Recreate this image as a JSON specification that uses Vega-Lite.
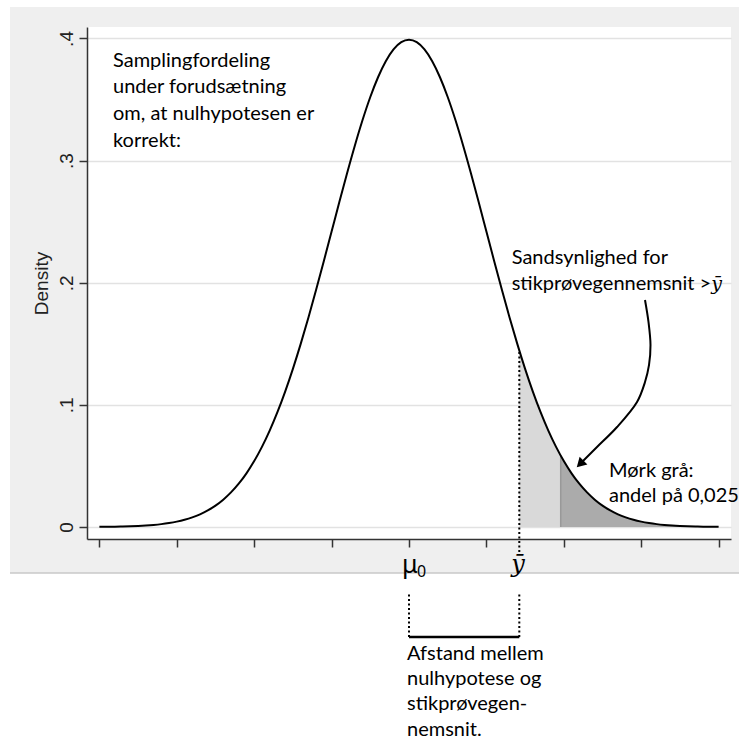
{
  "$schema": "https://vega.github.io/schema/vega-lite/v6.json",
  "width": 644,
  "height": 512,
  "autosize": {"type": "none"},
  "padding": {"left": 87, "top": 27, "right": 8, "bottom": 201},
  "background": "#efefef",
  "config": {"view": {"fill": "white", "stroke": null}, "font": "Liberation Sans"},
  "datasets": {
    "curve": [
      {"x": -4.0, "y": 0.00013}, {"x": -3.9, "y": 0.00020}, {"x": -3.8, "y": 0.00029}, {"x": -3.7, "y": 0.00042},
      {"x": -3.6, "y": 0.00061}, {"x": -3.5, "y": 0.00087}, {"x": -3.4, "y": 0.00123}, {"x": -3.3, "y": 0.00172},
      {"x": -3.2, "y": 0.00238}, {"x": -3.1, "y": 0.00327}, {"x": -3.0, "y": 0.00443}, {"x": -2.9, "y": 0.00595},
      {"x": -2.8, "y": 0.00792}, {"x": -2.7, "y": 0.01042}, {"x": -2.6, "y": 0.01358}, {"x": -2.5, "y": 0.01753},
      {"x": -2.4, "y": 0.02239}, {"x": -2.3, "y": 0.02833}, {"x": -2.2, "y": 0.03547}, {"x": -2.1, "y": 0.04398},
      {"x": -2.0, "y": 0.05399}, {"x": -1.9, "y": 0.06562}, {"x": -1.8, "y": 0.07895}, {"x": -1.7, "y": 0.09405},
      {"x": -1.6, "y": 0.11092}, {"x": -1.5, "y": 0.12952}, {"x": -1.4, "y": 0.14973}, {"x": -1.3, "y": 0.17137},
      {"x": -1.2, "y": 0.19419}, {"x": -1.1, "y": 0.21785}, {"x": -1.0, "y": 0.24197}, {"x": -0.9, "y": 0.26609},
      {"x": -0.8, "y": 0.28969}, {"x": -0.7, "y": 0.31225}, {"x": -0.6, "y": 0.33322}, {"x": -0.5, "y": 0.35207},
      {"x": -0.4, "y": 0.36827}, {"x": -0.3, "y": 0.38139}, {"x": -0.2, "y": 0.39104}, {"x": -0.1, "y": 0.39695},
      {"x": 0.0, "y": 0.39894},
      {"x": 0.1, "y": 0.39695}, {"x": 0.2, "y": 0.39104}, {"x": 0.3, "y": 0.38139}, {"x": 0.4, "y": 0.36827},
      {"x": 0.5, "y": 0.35207}, {"x": 0.6, "y": 0.33322}, {"x": 0.7, "y": 0.31225}, {"x": 0.8, "y": 0.28969},
      {"x": 0.9, "y": 0.26609}, {"x": 1.0, "y": 0.24197}, {"x": 1.1, "y": 0.21785}, {"x": 1.2, "y": 0.19419},
      {"x": 1.3, "y": 0.17137}, {"x": 1.4, "y": 0.14973}, {"x": 1.5, "y": 0.12952}, {"x": 1.6, "y": 0.11092},
      {"x": 1.7, "y": 0.09405}, {"x": 1.8, "y": 0.07895}, {"x": 1.9, "y": 0.06562}, {"x": 2.0, "y": 0.05399},
      {"x": 2.1, "y": 0.04398}, {"x": 2.2, "y": 0.03547}, {"x": 2.3, "y": 0.02833}, {"x": 2.4, "y": 0.02239},
      {"x": 2.5, "y": 0.01753}, {"x": 2.6, "y": 0.01358}, {"x": 2.7, "y": 0.01042}, {"x": 2.8, "y": 0.00792},
      {"x": 2.9, "y": 0.00595}, {"x": 3.0, "y": 0.00443}, {"x": 3.1, "y": 0.00327}, {"x": 3.2, "y": 0.00238},
      {"x": 3.3, "y": 0.00172}, {"x": 3.4, "y": 0.00123}, {"x": 3.5, "y": 0.00087}, {"x": 3.6, "y": 0.00061},
      {"x": 3.7, "y": 0.00042}, {"x": 3.8, "y": 0.00029}, {"x": 3.9, "y": 0.00020}, {"x": 4.0, "y": 0.00013}
    ],
    "light": [
      {"x": 1.425, "y": 0.14453}, {"x": 1.5, "y": 0.12952}, {"x": 1.6, "y": 0.11092}, {"x": 1.7, "y": 0.09405},
      {"x": 1.8, "y": 0.07895}, {"x": 1.9, "y": 0.06562}, {"x": 1.96, "y": 0.05844}
    ],
    "dark": [
      {"x": 1.96, "y": 0.05844}, {"x": 2.0, "y": 0.05399}, {"x": 2.1, "y": 0.04398}, {"x": 2.2, "y": 0.03547},
      {"x": 2.3, "y": 0.02833}, {"x": 2.4, "y": 0.02239}, {"x": 2.5, "y": 0.01753}, {"x": 2.6, "y": 0.01358},
      {"x": 2.7, "y": 0.01042}, {"x": 2.8, "y": 0.00792}, {"x": 2.9, "y": 0.00595}, {"x": 3.0, "y": 0.00443},
      {"x": 3.2, "y": 0.00238}, {"x": 3.4, "y": 0.00123}, {"x": 3.6, "y": 0.00061}, {"x": 3.8, "y": 0.00029},
      {"x": 4.0, "y": 0.00013}
    ],
    "margins": [
      {"x": -5.4, "x2": 4.4, "y": -0.19, "y2": -0.0376},
      {"x": -5.4, "x2": -5.155, "y": -0.0376, "y2": 0.45},
      {"x": -5.4, "x2": 4.4, "y": 0.4258, "y2": 0.45}
    ],
    "frameEdge": [{"x": -5.155, "x2": 4.264, "y": -0.0376}],
    "darkEdge": [{"x": 1.96, "y": 0, "y2": 0.05844}],
    "dotted": [
      {"x": 1.425, "y": -0.0204, "y2": 0.14453},
      {"x": 1.425, "y": -0.0900, "y2": -0.0532},
      {"x": 0.0, "y": -0.0900, "y2": -0.0532}
    ],
    "bracket": [{"x": 0.0, "x2": 1.425, "y": -0.0900}],
    "arrow": [
      {"i": 0, "x": 3.049, "y": 0.1859}, {"i": 1, "x": 3.094, "y": 0.1679}, {"i": 2, "x": 3.120, "y": 0.1490},
      {"i": 3, "x": 3.101, "y": 0.1327}, {"i": 4, "x": 3.049, "y": 0.1187}, {"i": 5, "x": 2.946, "y": 0.1024},
      {"i": 6, "x": 2.688, "y": 0.0819}, {"i": 7, "x": 2.429, "y": 0.0655}, {"i": 8, "x": 2.248, "y": 0.0541}
    ],
    "arrowHead": [{"x": 2.211, "y": 0.0517}],
    "notes": [
      {"x": -3.824, "y": 0.3769, "text": "Samplingfordeling"},
      {"x": -3.824, "y": 0.3550, "text": "under forudsætning"},
      {"x": -3.824, "y": 0.3333, "text": "om, at nulhypotesen er"},
      {"x": -3.824, "y": 0.3114, "text": "korrekt:"},
      {"x": 1.327, "y": 0.2154, "text": "Sandsynlighed for"},
      {"x": 1.327, "y": 0.1941, "text": "stikprøvegennemsnit >"},
      {"x": 2.584, "y": 0.0410, "text": "Mørk grå:"},
      {"x": 2.584, "y": 0.0207, "text": "andel på 0,025"},
      {"x": -0.026, "y": -0.1087, "text": "Afstand mellem"},
      {"x": -0.026, "y": -0.1294, "text": "nulhypotese og"},
      {"x": -0.026, "y": -0.1501, "text": "stikprøvegen-"},
      {"x": -0.026, "y": -0.1708, "text": "nemsnit."}
    ],
    "mu": [{"x": 0.01, "y": -0.0379, "text": "μ"}],
    "sub": [{"x": 0.104, "y": -0.0407, "text": "0"}],
    "ybarAxis": [{"x": 1.41, "y": -0.0372, "text": "ȳ"}],
    "ybarNote": [{"x": 3.975, "y": 0.1937, "text": "ȳ"}]
  },
  "encoding": {
    "x": {
      "field": "x", "type": "quantitative",
      "scale": {"domain": [-4.16, 4.16], "nice": false, "zero": false},
      "axis": {
        "values": [-4, -3, -2, -1, 0, 1, 2, 3, 4],
        "labels": false, "grid": false, "title": null,
        "ticks": true, "tickSize": 8, "tickWidth": 1.5, "tickColor": "#333333",
        "domainColor": "#333333", "domainWidth": 1.5
      }
    },
    "y": {
      "field": "y", "type": "quantitative",
      "scale": {"domain": [-0.0098, 0.4094], "nice": false, "zero": false},
      "axis": {
        "values": [0, 0.1, 0.2, 0.3, 0.4],
        "labelExpr": "datum.value == 0 ? '0' : replace(format(datum.value, '.1f'), '0.', '.')",
        "labelAngle": -90, "labelAlign": "center", "labelBaseline": "bottom",
        "labelFontSize": 19, "labelFont": "Liberation Sans", "labelColor": "#222222", "labelPadding": 3,
        "ticks": true, "tickSize": 8, "tickWidth": 1.5, "tickColor": "#333333",
        "domainColor": "#333333", "domainWidth": 1.5,
        "grid": true, "gridColor": "#e2e2e2", "gridWidth": 1.5,
        "title": "Density", "titleFontSize": 19, "titleFont": "Liberation Sans",
        "titleFontWeight": "normal", "titleColor": "#222222", "titlePadding": 6
      }
    }
  },
  "layer": [
    {
      "data": {"name": "margins"},
      "mark": {"type": "rect", "color": "white"},
      "encoding": {"x2": {"field": "x2"}, "y2": {"field": "y2"}}
    },
    {
      "data": {"name": "frameEdge"},
      "mark": {"type": "rule", "color": "#c8c8c8", "strokeWidth": 1.5},
      "encoding": {"x2": {"field": "x2"}}
    },
    {
      "data": {"name": "light"},
      "mark": {"type": "area", "color": "#d9d9d9", "opacity": 1, "interpolate": "monotone"}
    },
    {
      "data": {"name": "dark"},
      "mark": {"type": "area", "color": "#ababab", "opacity": 1, "interpolate": "monotone"}
    },
    {
      "data": {"name": "darkEdge"},
      "mark": {"type": "rule", "color": "#999999", "strokeWidth": 1.5},
      "encoding": {"y2": {"field": "y2"}}
    },
    {
      "data": {"name": "curve"},
      "mark": {"type": "line", "color": "black", "strokeWidth": 2, "interpolate": "monotone"}
    },
    {
      "data": {"name": "dotted"},
      "mark": {"type": "rule", "color": "black", "strokeWidth": 2, "strokeDash": [2, 2.5]},
      "encoding": {"y2": {"field": "y2"}}
    },
    {
      "data": {"name": "bracket"},
      "mark": {"type": "rule", "color": "black", "strokeWidth": 2.5},
      "encoding": {"x2": {"field": "x2"}}
    },
    {
      "data": {"name": "arrow"},
      "mark": {"type": "line", "color": "black", "strokeWidth": 2, "interpolate": "catmull-rom"},
      "encoding": {"order": {"field": "i", "type": "quantitative"}}
    },
    {
      "data": {"name": "arrowHead"},
      "mark": {"type": "point", "shape": "triangle-up", "filled": true, "color": "black", "size": 120, "angle": 225, "opacity": 1}
    },
    {
      "data": {"name": "notes"},
      "mark": {"type": "text", "font": "Lato", "fontSize": 20, "align": "left", "baseline": "alphabetic", "color": "black"},
      "encoding": {"text": {"field": "text"}}
    },
    {
      "data": {"name": "mu"},
      "mark": {"type": "text", "font": "Noto Sans", "fontSize": 25, "align": "center", "baseline": "alphabetic", "color": "black"},
      "encoding": {"text": {"field": "text"}}
    },
    {
      "data": {"name": "sub"},
      "mark": {"type": "text", "font": "Noto Sans", "fontSize": 16, "align": "left", "baseline": "alphabetic", "color": "black"},
      "encoding": {"text": {"field": "text"}}
    },
    {
      "data": {"name": "ybarAxis"},
      "mark": {"type": "text", "font": "DejaVu Serif", "fontStyle": "italic", "fontSize": 24, "align": "center", "baseline": "alphabetic", "color": "black"},
      "encoding": {"text": {"field": "text"}}
    },
    {
      "data": {"name": "ybarNote"},
      "mark": {"type": "text", "font": "DejaVu Serif", "fontStyle": "italic", "fontSize": 19, "align": "center", "baseline": "alphabetic", "color": "black"},
      "encoding": {"text": {"field": "text"}}
    }
  ]
}
